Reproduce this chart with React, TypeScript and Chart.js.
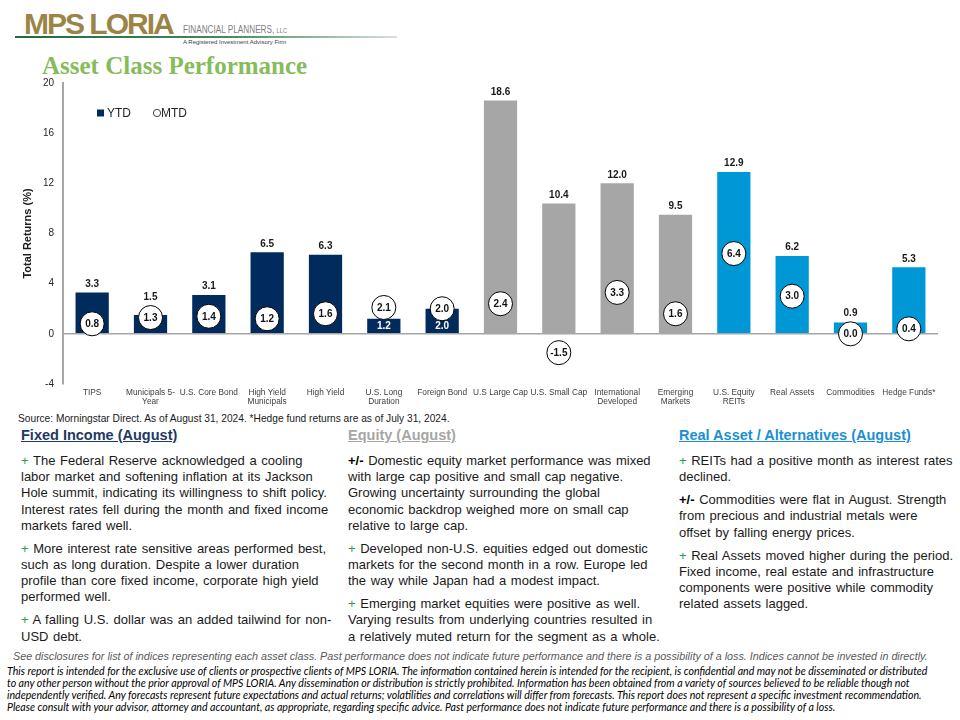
import React, { useEffect, useRef } from "react";
import { Chart, registerables } from "chart.js";

Chart.register(...registerables);

const categories: (string | string[])[] = [
  "TIPS",
  ["Municipals 5-", "Year"],
  "U.S. Core Bond",
  ["High Yield", "Municipals"],
  "High Yield",
  ["U.S. Long", "Duration"],
  "Foreign Bond",
  "U.S Large Cap",
  "U.S. Small Cap",
  ["International", "Developed"],
  ["Emerging", "Markets"],
  ["U.S. Equity", "REITs"],
  "Real Assets",
  "Commodities",
  "Hedge Funds*",
];

const ytdValues = [3.3, 1.5, 3.1, 6.5, 6.3, 1.2, 2.0, 18.6, 10.4, 12.0, 9.5, 12.9, 6.2, 0.9, 5.3];
const mtdValues = [0.8, 1.3, 1.4, 1.2, 1.6, 2.1, 2.0, 2.4, -1.5, 3.3, 1.6, 6.4, 3.0, 0.0, 0.4];
const assetGroups = [
  "fixed", "fixed", "fixed", "fixed", "fixed", "fixed", "fixed",
  "equity", "equity", "equity", "equity",
  "real", "real", "real", "real",
];
const yTickValues = [-4, 0, 4, 8, 12, 16, 20];
const ytdLabelInside = ["U.S. Long Duration", "Foreign Bond"];

const groupColors: Record<string, string> = {
  fixed: "#002b5c",
  equity: "#a6a6a6",
  real: "#0097d7",
};

const FONT = "'Liberation Sans', Arial, sans-serif";
const CANVAS_TOP = 70;
const CANVAS_H = 340;

const catName = (c: string | string[]) => (Array.isArray(c) ? c.join(" ") : c);

const labelPlugin = {
  id: "valueLabels",
  afterDatasetsDraw(chart: any) {
    const ctx = chart.ctx as CanvasRenderingContext2D;
    const barMeta = chart.getDatasetMeta(0);
    const ptMeta = chart.getDatasetMeta(1);
    const y0 = chart.scales.y.getPixelForValue(0);
    ctx.save();
    ctx.textAlign = "center";
    ctx.textBaseline = "middle";
    ctx.font = `bold 10px ${FONT}`;
    barMeta.data.forEach((bar: any, i: number) => {
      const txt = ytdValues[i].toFixed(1);
      if (ytdLabelInside.includes(catName(categories[i]))) {
        ctx.fillStyle = "#ffffff";
        ctx.fillText(txt, bar.x, y0 - 8);
      } else {
        const pt = ptMeta.data[i];
        const r = 12;
        let top = Math.min(bar.y, bar.base);
        if (pt && pt.y - r < top && pt.y + r > top - 16) top = Math.min(top, pt.y - r);
        ctx.fillStyle = "#1a1a1a";
        ctx.fillText(txt, bar.x, top - 8.5);
      }
    });
    ctx.fillStyle = "#111111";
    ptMeta.data.forEach((pt: any, i: number) => {
      ctx.fillText(mtdValues[i].toFixed(1), pt.x, pt.y + 0.5);
    });
    // legend
    const ly = 113 - CANVAS_TOP;
    ctx.fillStyle = groupColors.fixed;
    ctx.fillRect(97, ly - 3.5, 7, 7);
    ctx.font = `12px ${FONT}`;
    ctx.textAlign = "left";
    ctx.fillStyle = "#262626";
    ctx.fillText("YTD", 107, ly + 0.5);
    ctx.beginPath();
    ctx.arc(157, ly, 3.6, 0, Math.PI * 2);
    ctx.strokeStyle = "#404040";
    ctx.lineWidth = 1;
    ctx.stroke();
    ctx.fillText("MTD", 161, ly + 0.5);
    ctx.restore();
  },
};

function ChartCanvas() {
  const ref = useRef<HTMLCanvasElement | null>(null);
  useEffect(() => {
    if (!ref.current) return;
    const chart = new Chart(ref.current, {
      type: "bar",
      data: {
        labels: categories,
        datasets: [
          {
            type: "bar",
            label: "YTD",
            data: ytdValues,
            backgroundColor: assetGroups.map((g) => groupColors[g]),
            borderWidth: 0,
            barPercentage: 0.57,
            categoryPercentage: 1,
            order: 2,
          } as any,
          {
            type: "line",
            label: "MTD",
            data: mtdValues,
            showLine: false,
            pointRadius: 12,
            pointHoverRadius: 12,
            pointBackgroundColor: "#ffffff",
            pointBorderColor: "#000000",
            pointBorderWidth: 1,
            clip: false,
            order: 1,
          } as any,
        ],
      },
      options: {
        animation: false,
        responsive: false,
        events: [],
        layout: { padding: { top: 7, right: 22, left: 0, bottom: 0 } },
        plugins: {
          legend: { display: false },
          tooltip: { enabled: false },
        },
        scales: {
          x: {
            grid: { display: false, drawTicks: false },
            border: { display: false },
            ticks: {
              autoSkip: false,
              maxRotation: 0,
              minRotation: 0,
              padding: 4,
              color: "#404040",
              font: { family: FONT, size: 8.3, lineHeight: 1.1 },
            },
            afterFit: (s: any) => {
              s.height = 26;
            },
          },
          y: {
            min: -4,
            max: 20,
            afterBuildTicks: (s: any) => {
              s.ticks = yTickValues.map((v) => ({ value: v }));
            },
            grid: {
              drawTicks: false,
              color: (c: any) => (c.tick && c.tick.value === 0 ? "#a6a6a6" : "rgba(0,0,0,0)"),
              lineWidth: 1.5,
            },
            border: { display: true, color: "#a6a6a6", width: 2 },
            ticks: {
              padding: 9,
              color: "#262626",
              font: { family: FONT, size: 10 },
            },
            title: {
              display: true,
              text: "Total Returns (%)",
              color: "#1a1a1a",
              font: { family: FONT, size: 11, weight: "bold" },
              padding: { top: 21, bottom: 0 },
            },
            afterFit: (s: any) => {
              s.width = 63;
              s.paddingTop = 0;
              s.paddingBottom = 0;
            },
          },
        },
      },
      plugins: [labelPlugin],
    } as any);
    return () => chart.destroy();
  }, []);
  return (
    <canvas
      ref={ref}
      width={960}
      height={CANVAS_H}
      style={{ position: "absolute", left: 0, top: CANVAS_TOP, width: 960, height: CANVAS_H }}
    />
  );
}

type Para = { prefix: string; lines: string[] };

const fixedIncome: Para[] = [
  {
    prefix: "+",
    lines: [
      "The Federal Reserve acknowledged a cooling",
      "labor market and softening inflation at its Jackson",
      "Hole summit, indicating its willingness to shift policy.",
      "Interest rates fell during the month and fixed income",
      "markets fared well.",
    ],
  },
  {
    prefix: "+",
    lines: [
      "More interest rate sensitive areas performed best,",
      "such as long duration. Despite a lower duration",
      "profile than core fixed income, corporate high yield",
      "performed well.",
    ],
  },
  {
    prefix: "+",
    lines: ["A falling U.S. dollar was an added tailwind for non-", "USD debt."],
  },
];

const equity: Para[] = [
  {
    prefix: "+/-",
    lines: [
      "Domestic equity market performance was mixed",
      "with large cap positive and small cap negative.",
      "Growing uncertainty surrounding the global",
      "economic backdrop weighed more on small cap",
      "relative to large cap.",
    ],
  },
  {
    prefix: "+",
    lines: [
      "Developed non-U.S. equities edged out domestic",
      "markets for the second month in a row. Europe led",
      "the way while Japan had a modest impact.",
    ],
  },
  {
    prefix: "+",
    lines: [
      "Emerging market equities were positive as well.",
      "Varying results from underlying countries resulted in",
      "a relatively muted return for the segment as a whole.",
    ],
  },
];

const realAssets: Para[] = [
  {
    prefix: "+",
    lines: ["REITs had a positive month as interest rates", "declined."],
  },
  {
    prefix: "+/-",
    lines: [
      "Commodities were flat in August. Strength",
      "from precious and industrial metals were",
      "offset by falling energy prices.",
    ],
  },
  {
    prefix: "+",
    lines: [
      "Real Assets moved higher during the period.",
      "Fixed income, real estate and infrastructure",
      "components were positive while commodity",
      "related assets lagged.",
    ],
  },
];

const disclaimerLines = [
  "This report is intended for the exclusive use of clients or prospective clients of MPS LORIA. The information contained herein is intended for the recipient, is confidential and may not be disseminated or distributed",
  "to any other person without the prior approval of MPS LORIA. Any dissemination or distribution is strictly prohibited. Information has been obtained from a variety of sources believed to be reliable though not",
  "independently verified. Any forecasts represent future expectations and actual returns; volatilities and correlations will differ from forecasts. This report does not represent a specific investment recommendation.",
  "Please consult with your advisor, attorney and accountant, as appropriate, regarding specific advice. Past performance does not indicate future performance and there is a possibility of a loss.",
];

function Column({ left, title, color, paras }: { left: number; title: string; color: string; paras: Para[] }) {
  return (
    <div style={{ position: "absolute", left, top: 427, width: 320 }}>
      <div
        style={{
          fontSize: 14.5,
          fontWeight: "bold",
          color,
          textDecoration: "underline",
          lineHeight: "16px",
          whiteSpace: "nowrap",
        }}
      >
        {title}
      </div>
      <div style={{ marginTop: 10 }}>
        {paras.map((p, pi) => (
          <div key={pi} style={{ marginBottom: 6.8 }}>
            {p.lines.map((ln, li) => (
              <div
                key={li}
                style={{
                  fontSize: 13,
                  lineHeight: "16.2px",
                  wordSpacing: 1,
                  color: "#1a1a1a",
                  whiteSpace: "nowrap",
                }}
              >
                {li === 0 ? (
                  <span
                    style={
                      p.prefix === "+"
                        ? { color: "#2e9a55" }
                        : { color: "#000", fontWeight: "bold" }
                    }
                  >
                    {p.prefix}
                  </span>
                ) : null}
                {li === 0 ? " " : ""}
                {ln}
              </div>
            ))}
          </div>
        ))}
      </div>
    </div>
  );
}

export default function App() {
  return (
    <div
      style={{
        position: "absolute",
        left: 0,
        top: 0,
        width: 960,
        height: 720,
        background: "#ffffff",
        overflow: "hidden",
        fontFamily: FONT,
      }}
    >
      <div
        style={{
          position: "absolute",
          left: 42,
          top: 52,
          fontFamily: "'Liberation Serif', 'Times New Roman', serif",
          fontSize: 25,
          lineHeight: "28px",
          fontWeight: "bold",
          color: "#86bc5b",
          whiteSpace: "nowrap",
        }}
      >
        Asset Class Performance
      </div>

      <ChartCanvas />

      {/* Logo */}
      <div
        style={{
          position: "absolute",
          left: 15,
          top: 36,
          width: 382,
          height: 2,
          background: "linear-gradient(to right, #1f6b3c 0%, #3f8a5a 55%, #d9dedb 100%)",
        }}
      />
      <div
        style={{
          position: "absolute",
          left: 24,
          top: 7,
          fontSize: 30,
          lineHeight: "34px",
          fontWeight: "bold",
          color: "#9b8546",
          letterSpacing: -2,
          whiteSpace: "nowrap",
        }}
      >
        MPS LORIA
      </div>
      <div
        style={{
          position: "absolute",
          left: 183,
          top: 24,
          fontSize: 10,
          lineHeight: "12px",
          color: "#7f7f7f",
          whiteSpace: "nowrap",
          transform: "scaleX(0.82)",
          transformOrigin: "left top",
        }}
      >
        FINANCIAL PLANNERS, <span style={{ fontSize: 7 }}>LLC</span>
      </div>
      <div
        style={{
          position: "absolute",
          left: 183,
          top: 39,
          fontSize: 6,
          lineHeight: "7px",
          color: "#404040",
          whiteSpace: "nowrap",
        }}
      >
        A Registered Investment Advisory Firm
      </div>

      <div
        style={{
          position: "absolute",
          left: 18,
          top: 413,
          fontSize: 10.2,
          lineHeight: "12px",
          color: "#1a1a1a",
          whiteSpace: "nowrap",
        }}
      >
        Source: Morningstar Direct. As of August 31, 2024. *Hedge fund returns are as of July 31, 2024.
      </div>

      <Column left={21} title="Fixed Income (August)" color="#1f3864" paras={fixedIncome} />
      <Column left={348} title="Equity (August)" color="#a6a6a6" paras={equity} />
      <Column left={679} title="Real Asset / Alternatives (August)" color="#1a8fd3" paras={realAssets} />

      <div
        style={{
          position: "absolute",
          left: 13,
          top: 650,
          fontSize: 10.75,
          lineHeight: "12px",
          fontStyle: "italic",
          color: "#595959",
          whiteSpace: "nowrap",
        }}
      >
        See disclosures for list of indices representing each asset class. Past performance does not indicate future
        performance and there is a possibility of a loss. Indices cannot be invested in directly.
      </div>
      <div style={{ position: "absolute", left: 7, top: 665 }}>
        {disclaimerLines.map((ln, i) => (
          <div
            key={i}
            style={{
              fontFamily: "Lato, 'Liberation Sans', sans-serif",
              fontStyle: "italic",
              fontSize: 10.6,
              lineHeight: "12px",
              color: "#000",
              whiteSpace: "nowrap",
            }}
          >
            {ln}
          </div>
        ))}
      </div>
    </div>
  );
}
